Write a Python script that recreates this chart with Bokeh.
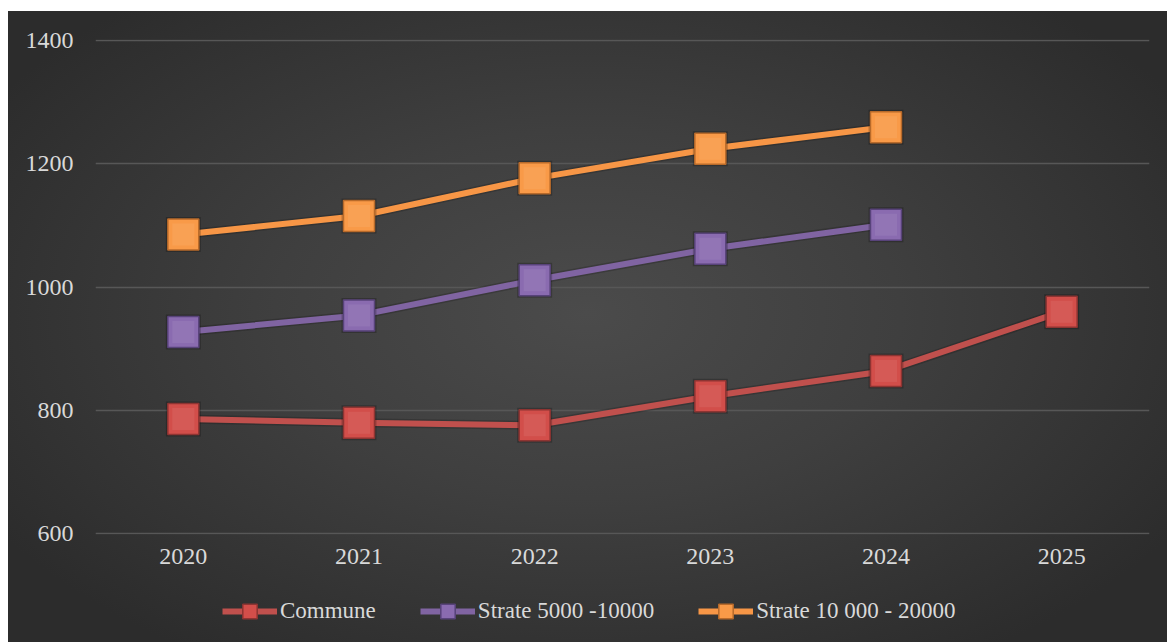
from bokeh.plotting import figure
from bokeh.layouts import column
from bokeh.models import Range1d, Legend, LegendItem, InlineStyleSheet, FixedTicker
from bokeh.embed import file_html
from bokeh.resources import INLINE

# ---- data ----
years = ["2020", "2021", "2022", "2023", "2024", "2025"]
commune = [786, 780, 776, 823, 864, 960]
strate_5000_10000 = [927, 954, 1011, 1062, 1101]
strate_10000_20000 = [1085, 1115, 1176, 1224, 1259]
y_ticks = [600, 800, 1000, 1200, 1400]
series_names = ["Commune", "Strate 5000 -10000", "Strate 10 000 - 20000"]

# ---- style ----
FONT = "Liberation Serif"
TEXT = "#d9d9d9"
line_colors = ["#C0504D", "#8064A2", "#F79646"]
fill_colors = ["#D24E4A", "#8A6BB0", "#F99A48"]
edge_colors = ["#8E3432", "#58437A", "#B86A2A"]

p = figure(
    width=1159, height=570,
    x_range=years, y_range=Range1d(599, 1401),
    output_backend="svg", toolbar_location=None,
    min_border_left=87, min_border_right=18, min_border_top=28, min_border_bottom=47,
)
p.border_fill_alpha = 0
p.background_fill_alpha = 0
p.outline_line_color = None

# axes
for ax in (p.xaxis[0], p.yaxis[0]):
    ax.axis_line_color = None
    ax.major_tick_line_color = None
    ax.minor_tick_line_color = None
    ax.major_tick_out = 0
    ax.major_tick_in = 0
    ax.major_label_text_font = FONT
    ax.major_label_text_font_size = "24px"
    ax.major_label_text_color = TEXT
p.yaxis.ticker = FixedTicker(ticks=y_ticks)
p.yaxis.major_label_standoff = 22
p.xaxis.major_label_standoff = 14
p.xgrid.grid_line_color = None
p.ygrid.grid_line_color = "#575757"
p.ygrid.grid_line_width = 1.5
p.ygrid.ticker = FixedTicker(ticks=y_ticks)

series = [
    (years, commune),
    (years[:len(strate_5000_10000)], strate_5000_10000),
    (years[:len(strate_10000_20000)], strate_10000_20000),
]

# legend strip below the chart
pl = figure(
    width=1159, height=61, x_range=Range1d(0, 1), y_range=Range1d(0, 1),
    output_backend="svg", toolbar_location=None,
    min_border=0, min_border_left=0, min_border_right=0, min_border_top=0, min_border_bottom=0,
)
pl.axis.visible = False
pl.grid.visible = False
pl.border_fill_alpha = 0
pl.background_fill_alpha = 0
pl.outline_line_color = None

items = []
for i, (xs, ys) in enumerate(series):
    p.line(xs, ys, line_color="#000000", line_alpha=0.18, line_width=9)
    p.line(xs, ys, line_color=line_colors[i], line_width=6)
    p.scatter(xs, ys, marker="square", size=35, fill_color="#000000", fill_alpha=0.22, line_color=None)
    p.scatter(xs, ys, marker="square", size=31, fill_color=fill_colors[i],
              line_color=edge_colors[i], line_width=1.5)
    p.scatter(xs, ys, marker="square", size=22, fill_color="#ffffff", fill_alpha=0.07,
              line_color=None)
    # legend-only renderers, placed outside the strip's visible range
    ln = pl.line([5, 6], [5, 5], line_color=line_colors[i], line_width=6)
    sc = pl.scatter([5], [5], marker="square", fill_color=fill_colors[i],
                    line_color=edge_colors[i], line_width=1.5)
    items.append(LegendItem(label=series_names[i], renderers=[ln, sc]))

legend = Legend(
    items=items, orientation="horizontal", location=(123, 9),
    background_fill_alpha=0, border_line_alpha=0,
    label_text_font=FONT, label_text_font_size="23px", label_text_color=TEXT,
    glyph_width=55, glyph_height=36, spacing=44, label_standoff=3,
    padding=4, margin=0,
)
pl.add_layout(legend, "center")

layout = column(p, pl, spacing=0)
layout.margin = (11, 0, 0, 8)
layout.stylesheets = [InlineStyleSheet(css=(
    ":host { background: radial-gradient(ellipse 60% 65% at 50% 48%, "
    "#4b4b4b 0%, #3f3f3f 45%, #2c2c2c 100%); }"
))]

open("out.html", "w").write(file_html(layout, INLINE))
